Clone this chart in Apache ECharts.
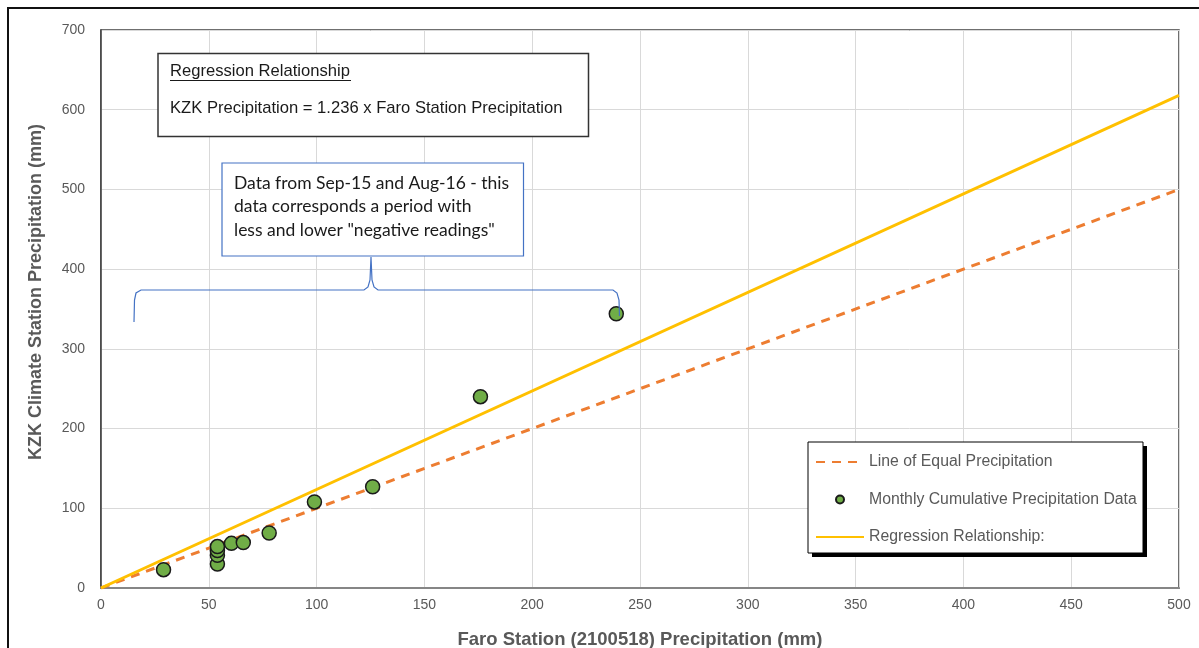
<!DOCTYPE html>
<html>
<head>
<meta charset="utf-8">
<script src="https://cdn.jsdelivr.net/npm/echarts@6/dist/echarts.min.js"></script>
<style>
html,body{margin:0;padding:0;background:#fff;}
#chart{width:1199px;height:648px;}
</style>
</head>
<body>
<div id="chart"></div>
<script>
// Data
const faroX = [29, 54, 54, 54, 54, 60.5, 66, 78, 99, 126, 176, 239];
const kzkY  = [23, 30, 41, 47, 52, 56, 57, 69, 108, 127, 240, 344];
const equalLineX = [0, 500];
const equalLineY = [0, 500];
const regressionX = [0, 500];
const regressionY = [0, 618];
const seriesNames = ['Line of Equal Precipitation', 'Monthly Cumulative Precipitation Data', 'Regression Relationship:'];
const xTitle = 'Faro Station (2100518) Precipitation (mm)';
const yTitle = 'KZK Climate Station Precipitation (mm)';
const boxTitle = 'Regression Relationship';
const boxEquation = 'KZK Precipitation = 1.236 x Faro Station Precipitation';
const noteLines = ['Data from Sep-15 and Aug-16 - this', 'data corresponds a period with', 'less and lower "negative readings"'];

const zip = (a, b) => a.map((v, i) => [v, b[i]]);

const chart = echarts.init(document.getElementById('chart'), null, {renderer: 'canvas'});
const font = 'Liberation Sans, Arial, sans-serif';
const noteFont = '17.5px Lato, "Open Sans", sans-serif';
const hiddenSymbol = {color: 'rgba(0,0,0,0)', borderWidth: 0, borderColor: 'rgba(0,0,0,0)'};

chart.setOption({
  animation: false,
  backgroundColor: '#ffffff',
  grid: {left: 101, right: 20, top: 30, bottom: 60, outerBoundsMode: 'none', containLabel: false,
         show: true, borderColor: '#404040', borderWidth: 1.5, backgroundColor: 'transparent'},
  xAxis: {
    type: 'value', min: 0, max: 500, interval: 50,
    name: xTitle, nameLocation: 'middle', nameGap: 42,
    nameTextStyle: {fontFamily: font, fontSize: 18.5, fontWeight: 'bold', color: '#595959'},
    axisLine: {show: true, lineStyle: {color: '#868686', width: 2}},
    axisTick: {show: false},
    axisLabel: {fontFamily: font, fontSize: 14, color: '#595959', margin: 10},
    splitLine: {show: true, lineStyle: {color: '#D9D9D9', width: 1}}
  },
  yAxis: {
    type: 'value', min: 0, max: 700, interval: 100,
    name: yTitle, nameLocation: 'middle', nameGap: 56, nameRotate: 90,
    nameTextStyle: {fontFamily: font, fontSize: 18, fontWeight: 'bold', color: '#595959', padding: [0, 0, 0, 34]},
    axisLine: {show: true, lineStyle: {color: '#404040', width: 1.5}},
    axisTick: {show: false},
    axisLabel: {fontFamily: font, fontSize: 14, color: '#595959', margin: 16},
    splitLine: {show: true, lineStyle: {color: '#D9D9D9', width: 1}}
  },
  legend: {
    orient: 'vertical', left: 808, top: 442, z: 200,
    data: [
      {name: seriesNames[0], itemStyle: hiddenSymbol},
      {name: seriesNames[1]},
      {name: seriesNames[2], itemStyle: hiddenSymbol}
    ],
    itemWidth: 48, itemHeight: 8, itemGap: 21.5,
    padding: [12, 8, 11, 7],
    textStyle: {fontFamily: font, fontSize: 15.8, color: '#595959'}
  },
  series: [
    {
      name: seriesNames[0], type: 'line', data: zip(equalLineX, equalLineY),
      symbol: 'none', z: 2,
      lineStyle: {color: '#ED7D31', width: 3, type: [9, 7]},
      itemStyle: {color: '#ED7D31'}
    },
    {
      name: seriesNames[2], type: 'line', data: zip(regressionX, regressionY),
      symbol: 'none', z: 3,
      lineStyle: {color: '#FFC000', width: 3},
      itemStyle: {color: '#FFC000'}
    },
    {
      name: seriesNames[1], type: 'scatter', data: zip(faroX, kzkY),
      symbol: 'circle', symbolSize: 14, z: 4,
      itemStyle: {color: '#70AD47', borderColor: '#1a1a1a', borderWidth: 1.5, opacity: 1}
    }
  ],
  graphic: [
    // outer frame
    {type: 'rect', shape: {x: 8, y: 8, width: 1200, height: 700}, style: {fill: 'none', stroke: '#111', lineWidth: 2}, z: 0, silent: true},
    // legend box with hard shadow
    {type: 'rect', shape: {x: 812, y: 446, width: 335, height: 111}, style: {fill: '#000000'}, z: 150},
    {type: 'rect', shape: {x: 808, y: 442, width: 335, height: 111}, style: {fill: '#ffffff', stroke: '#000000', lineWidth: 1}, z: 151},
    // regression box
    {type: 'rect', shape: {x: 158, y: 53.5, width: 430.5, height: 83}, style: {fill: '#ffffff', stroke: '#333333', lineWidth: 1.5}, z: 100},
    {type: 'text', x: 170, y: 71, style: {text: boxTitle, font: '16.6px ' + font, fill: '#1a1a1a', verticalAlign: 'middle'}, z: 101},
    {type: 'line', shape: {x1: 170, y1: 80.5, x2: 351, y2: 80.5}, style: {stroke: '#1a1a1a', lineWidth: 1}, z: 101},
    {type: 'text', x: 170, y: 108, style: {text: boxEquation, font: '16.6px ' + font, fill: '#1a1a1a', verticalAlign: 'middle'}, z: 101},
    // note box
    {type: 'rect', shape: {x: 222, y: 163, width: 301.5, height: 93}, style: {fill: '#ffffff', stroke: '#4472C4', lineWidth: 1.2}, z: 100},
    {type: 'text', x: 234, y: 183, style: {text: noteLines[0], font: noteFont, fill: '#1a1a1a', verticalAlign: 'middle'}, z: 101},
    {type: 'text', x: 234, y: 206.5, style: {text: noteLines[1], font: noteFont, fill: '#1a1a1a', verticalAlign: 'middle'}, z: 101},
    {type: 'text', x: 234, y: 230, style: {text: noteLines[2], font: noteFont, fill: '#1a1a1a', verticalAlign: 'middle'}, z: 101},
    // brace
    {type: 'polyline', shape: {points: [[134,322],[134.5,300],[136,293],[141,290],[364,290],[368,287],[370,280],[371,257],[372,280],[374,287],[378,290],[613,290],[617,293],[619,300],[619.5,316]]},
     style: {fill: 'none', stroke: '#4472C4', lineWidth: 1.2}, z: 100}
  ]
});
</script>
</body>
</html>
